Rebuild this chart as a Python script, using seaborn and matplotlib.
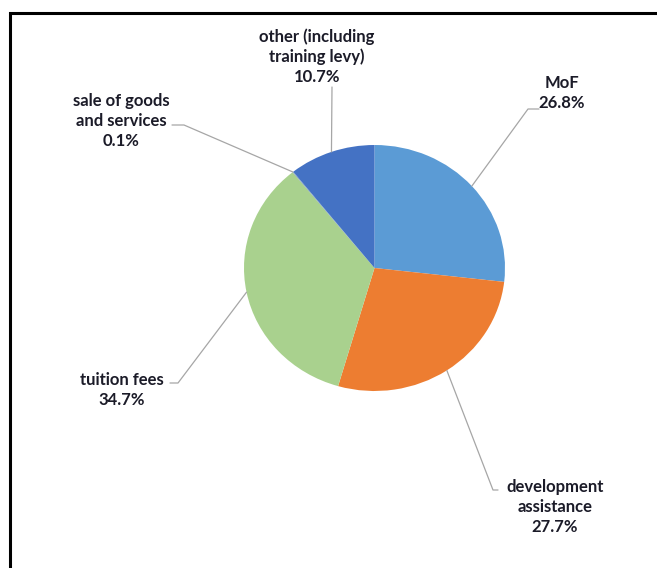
import numpy as np
import matplotlib
matplotlib.use("Agg")
import matplotlib.pyplot as plt
from matplotlib.lines import Line2D
from matplotlib.patches import Rectangle
import seaborn as sns

# Funding sources (share of total, %)
categories = ["MoF", "development assistance", "tuition fees",
              "sale of goods and services", "other (including training levy)"]
shares = [26.8, 27.7, 34.7, 0.1, 10.7]
label_lines = [
    ["MoF"],
    ["development", "assistance"],
    ["tuition fees"],
    ["sale of goods", "and services"],
    ["other (including", "training levy)"],
]
colors = ["#5B9BD5", "#ED7D31", "#A9D18E", "#7F9FB8", "#4472C4"]

sns.set_theme(style="white")
plt.rcParams["font.family"] = ["Lato", "DejaVu Sans"]

W, H = 657, 568
fig = plt.figure(figsize=(W / 100, H / 100), dpi=100)
fig.patch.set_facecolor("white")

# pie area in figure pixels (left, bottom, width, height)
pl, pb, pw, ph = 244, 177, 261, 246
ax = fig.add_axes([pl / W, pb / H, pw / W, ph / H])
wedges, _ = ax.pie(shares, colors=colors, startangle=90, counterclock=False,
                   radius=1.0, wedgeprops=dict(linewidth=0))
ax.set_xlim(-1, 1)
ax.set_ylim(-1, 1)
ax.set_aspect("auto")
ax.axis("off")

# label placement (figure pixels from top-left): text centre x, first line y,
# elbow of leader line, end of horizontal stub
layout = [
    dict(x=562, y=83, elbow=(528, 109), stub=(539, 109)),
    dict(x=555, y=487, elbow=(493, 490), stub=(498, 490)),
    dict(x=122, y=380, elbow=(178, 383), stub=(170, 383)),
    dict(x=121, y=101, elbow=(184, 125), stub=(172, 125)),
    dict(x=317, y=37, elbow=(332, 87), stub=(332, 87)),
]

text_color = "#1B1B28"
line_h = 20
for w, share, lines, lay in zip(wedges, shares, label_lines, layout):
    mid = np.deg2rad((w.theta1 + w.theta2) / 2)
    ex, ey = ax.transData.transform((np.cos(mid), np.sin(mid)))
    pts_x = [ex, lay["elbow"][0], lay["stub"][0]]
    pts_y = [ey, H - lay["elbow"][1], H - lay["stub"][1]]
    fig.add_artist(Line2D(pts_x, pts_y, transform=None, color="#A6A6A6",
                          linewidth=0.9))
    all_lines = lines + [f"{share:.1f}%"]
    for i, t in enumerate(all_lines):
        fig.text(lay["x"] / W, 1 - (lay["y"] + i * line_h) / H, t,
                 ha="center", va="center", fontsize=12, fontweight="bold",
                 color=text_color)

# chart border
fig.add_artist(Rectangle((10 / W, -0.1), 1.2, 1.1 - 13 / H,
                         transform=fig.transFigure, fill=False,
                         edgecolor="black", linewidth=2.2))

fig.savefig("out.png", dpi=100, facecolor="white")
